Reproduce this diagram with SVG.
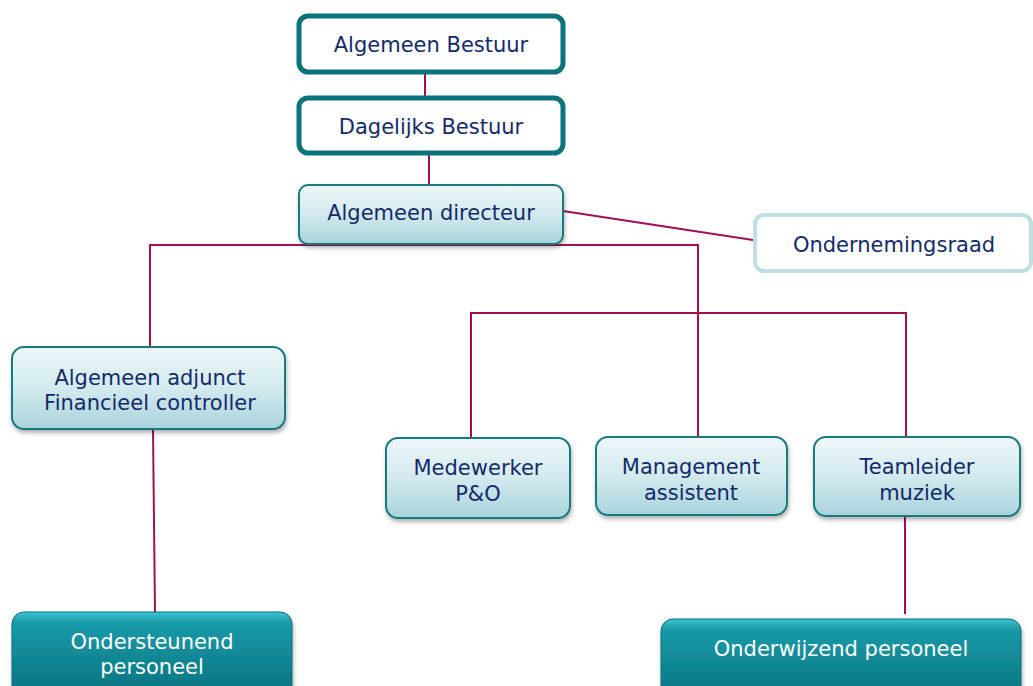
<svg xmlns="http://www.w3.org/2000/svg" width="1033" height="686" viewBox="0 0 1033 686">
<defs>
<linearGradient id="gl" x1="0" y1="0" x2="0" y2="1">
<stop offset="0" stop-color="#eef7f9"/>
<stop offset="0.5" stop-color="#d3eaee"/>
<stop offset="1" stop-color="#a9d3dc"/>
</linearGradient>
<linearGradient id="gd" x1="0" y1="0" x2="0" y2="1">
<stop offset="0" stop-color="#3cc4d4"/>
<stop offset="0.12" stop-color="#1a9aa8"/>
<stop offset="1" stop-color="#06707c"/>
</linearGradient>
<filter id="sh" x="-10%" y="-10%" width="120%" height="130%">
<feDropShadow dx="1" dy="3" stdDeviation="2" flood-color="#000" flood-opacity="0.3"/>
</filter>
</defs>
<style>
.t{font-family:"DejaVu Sans","Liberation Sans",sans-serif;font-size:21px;fill:#142a6a;text-anchor:middle}
.w{fill:#ffffff}
.bold{fill:#fff;stroke:#0b737a;stroke-width:5}
.light{fill:url(#gl);stroke:#177a80;stroke-width:2;filter:url(#sh)}
.or{fill:#fff;stroke:#bfdfe1;stroke-width:4}
.dark{fill:url(#gd);stroke:#0a6e78;stroke-width:1;filter:url(#sh)}
.c{stroke:#a0105a;stroke-width:2;fill:none}
</style>
<g id="connectors">
<line class="c" x1="425" y1="72" x2="425" y2="97"/>
<line class="c" x1="429" y1="153" x2="429" y2="185"/>
<line class="c" x1="563" y1="211" x2="753" y2="240"/>
<polyline class="c" points="150,347 150,245 698,245 698,437"/>
<polyline class="c" points="471,438 471,313 906,313 906,437"/>
<line class="c" x1="153" y1="429" x2="155" y2="612"/>
<line class="c" x1="905" y1="516" x2="905" y2="614"/>
</g>
<g id="algemeen-bestuur">
<rect class="bold" x="299" y="16" width="264" height="56" rx="9"/>
<text class="t" x="431" y="52">Algemeen Bestuur</text>
</g>
<g id="dagelijks-bestuur">
<rect class="bold" x="299" y="98" width="264" height="55" rx="9"/>
<text class="t" x="431" y="134">Dagelijks Bestuur</text>
</g>
<g id="algemeen-directeur">
<rect class="light" x="299" y="185" width="264" height="59" rx="9"/>
<text class="t" x="431" y="220">Algemeen directeur</text>
</g>
<g id="ondernemingsraad">
<rect class="or" x="755" y="215" width="276" height="56" rx="9"/>
<text class="t" x="894" y="252">Ondernemingsraad</text>
</g>
<g id="algemeen-adjunct">
<rect class="light" x="12" y="347" width="273" height="82" rx="12"/>
<text class="t" x="150" y="385">Algemeen adjunct</text>
<text class="t" x="150" y="410">Financieel controller</text>
</g>
<g id="medewerker-po">
<rect class="light" x="386" y="438" width="184" height="80" rx="12"/>
<text class="t" x="478" y="475">Medewerker</text>
<text class="t" x="478" y="501">P&amp;O</text>
</g>
<g id="management-assistent">
<rect class="light" x="596" y="437" width="191" height="78" rx="12"/>
<text class="t" x="691" y="474">Management</text>
<text class="t" x="691" y="500">assistent</text>
</g>
<g id="teamleider-muziek">
<rect class="light" x="814" y="437" width="206" height="79" rx="12"/>
<text class="t" x="917" y="474">Teamleider</text>
<text class="t" x="917" y="500">muziek</text>
</g>
<g id="ondersteunend-personeel">
<rect class="dark" x="12" y="612" width="280" height="90" rx="12"/>
<text class="t w" x="152" y="649">Ondersteunend</text>
<text class="t w" x="152" y="674">personeel</text>
</g>
<g id="onderwijzend-personeel">
<rect class="dark" x="661" y="619" width="360" height="85" rx="12"/>
<text class="t w" x="841" y="656">Onderwijzend personeel</text>
</g>
</svg>
